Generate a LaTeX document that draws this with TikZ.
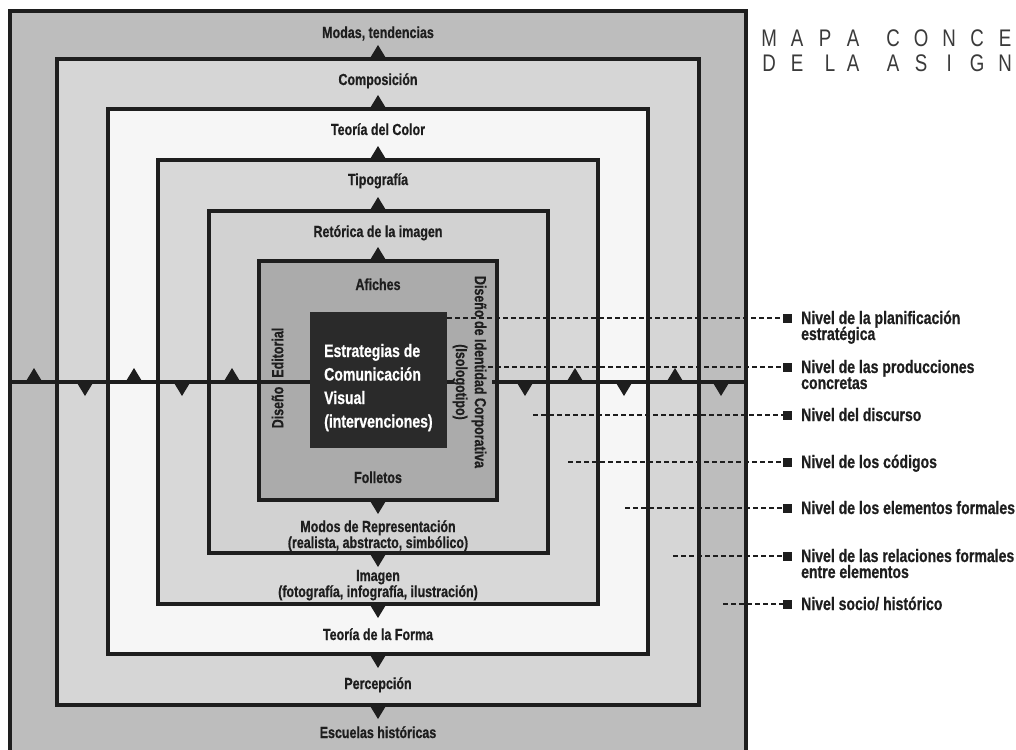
\documentclass[tikz,border=0pt]{standalone}
\usepackage{fontspec}
\newfontfamily\lblfont[FakeStretch=0.78,FakeBold=0.7]{Liberation Sans}
\newfontfamily\ttlfont[FakeStretch=0.78]{Liberation Sans}
\definecolor{linec}{HTML}{1E1E1E}
\definecolor{ttlc}{HTML}{3A3A3A}
\definecolor{bandA}{HTML}{BDBDBD}
\definecolor{bandB}{HTML}{D6D6D6}
\definecolor{bandC}{HTML}{F6F6F6}
\definecolor{bandD}{HTML}{D8D8D8}
\definecolor{bandE}{HTML}{D2D2D2}
\definecolor{bandF}{HTML}{ABABAB}
\definecolor{coreC}{HTML}{2A2A2A}
\newcommand\ttlcell[1]{\makebox[28pt]{#1}}
\newcommand\tup[2]{\fill[linec] (#1-8.5,#2) -- (#1+8.5,#2) -- (#1,#2-14) -- cycle;}
\newcommand\tdn[2]{\fill[linec] (#1-8.5,#2) -- (#1+8.5,#2) -- (#1,#2+14) -- cycle;}
\begin{document}
\begin{tikzpicture}[x=1pt,y=-1pt,
  band/.style={draw=linec, line width=3.2pt},
  lbl/.style={font=\lblfont\bfseries\fontsize{16pt}{17pt}\selectfont, text=linec, inner sep=0pt, anchor=base},
  lvl/.style={font=\lblfont\bfseries\fontsize{18pt}{16pt}\selectfont, text=linec, inner sep=0pt, anchor=base west},
  ctr/.style={font=\lblfont\bfseries\fontsize{18pt}{23.5pt}\selectfont, text=white, inner sep=0pt, anchor=base west},
  ttl/.style={font=\ttlfont\fontsize{24pt}{25pt}\selectfont, text=ttlc, inner sep=0pt, anchor=base west},
  lvline/.style={draw=linec, line width=2pt, dash pattern=on 5pt off 3pt},
  sq/.style={fill=linec, minimum size=9pt, inner sep=0pt},
  hline/.style={draw=linec, line width=3.2pt}
]
\useasboundingbox (0,0) rectangle (1016,749);
\clip (0,0) rectangle (1016,749);

% nested bands
\filldraw[band, fill=bandA] (10,11) rectangle (746,765);
\filldraw[band, fill=bandB] (57,59) rectangle (699,705);
\filldraw[band, fill=bandC] (108,109) rectangle (648,654);
\filldraw[band, fill=bandD] (158,160) rectangle (598,604);
\filldraw[band, fill=bandE] (209,211) rectangle (548,553);
\filldraw[band, fill=bandF] (259,261) rectangle (497,500);

% triangles on band edges
\tup{378}{59}\tup{378}{109}\tup{378}{160}\tup{378}{211}\tup{378}{261}
\tdn{378}{500}\tdn{378}{553}\tdn{378}{604}\tdn{378}{654}\tdn{378}{705}

% horizontal axis
\coordinate (h1) at (10,382);
\coordinate (h2) at (312,382);
\coordinate (h3) at (446,382);
\coordinate (h4) at (454,382);
\coordinate (h5) at (492,382);
\coordinate (h6) at (746,382);
\draw[hline] (h1) -- (h2);
\draw[hline] (h3) -- (h4);
\draw[hline] (h5) -- (h6);
\tup{34}{382}\tup{134}{382}\tup{232}{382}\tup{575}{382}\tup{675}{382}
\tdn{85}{382}\tdn{182}{382}\tdn{525}{382}\tdn{624}{382}\tdn{721}{382}

% core box
\fill[coreC] (310,312) rectangle (447,448);

% level lines
\node[sq] (s1) at (787.5,318) {};
\node[sq] (s2) at (787.5,367) {};
\node[sq] (s3) at (787.5,415) {};
\node[sq] (s4) at (787.5,462) {};
\node[sq] (s5) at (787.5,508) {};
\node[sq] (s6) at (787.5,556) {};
\node[sq] (s7) at (787.5,604) {};
\coordinate (d1) at (447,318);
\coordinate (d2) at (488,367);
\coordinate (d3) at (533,415);
\coordinate (d4) at (568,462);
\coordinate (d5) at (625,508);
\coordinate (d6) at (673,556);
\coordinate (d7) at (723,604);
\draw[lvline] (d1) -- (s1.west);
\draw[lvline] (d2) -- (s2.west);
\draw[lvline] (d3) -- (s3.west);
\draw[lvline] (d4) -- (s4.west);
\draw[lvline] (d5) -- (s5.west);
\draw[lvline] (d6) -- (s6.west);
\draw[lvline] (d7) -- (s7.west);

\node[lvl] (n1) at (801,324) {Nivel de la planificación};
\node[lvl] (n1b) at (801,340) {estratégica};
\node[lvl] (n2) at (801,373) {Nivel de las producciones};
\node[lvl] (n2b) at (801,389) {concretas};
\node[lvl] (n3) at (801,421) {Nivel del discurso};
\node[lvl] (n4) at (801,468) {Nivel de los códigos};
\node[lvl] (n5) at (801,514) {Nivel de los elementos formales};
\node[lvl] (n6) at (801,562) {Nivel de las relaciones formales};
\node[lvl] (n6b) at (801,578) {entre elementos};
\node[lvl] (n7) at (801,610) {Nivel socio/ histórico};

% band labels
\node[lbl] (modas) at (378,38) {Modas, tendencias};
\node[lbl] (compo) at (378,85) {Composición};
\node[lbl] (color) at (378,135) {Teoría del Color};
\node[lbl] (tipo) at (378,185) {Tipografía};
\node[lbl] (reto) at (378,237) {Retórica de la imagen};
\node[lbl] (afiches) at (378,290) {Afiches};
\node[lbl] (folletos) at (378,483) {Folletos};
\node[lbl] (modos) at (378,532) {Modos de Representación};
\node[lbl] (modosb) at (378,548) {(realista, abstracto, simbólico)};
\node[lbl] (imagen) at (378,581) {Imagen};
\node[lbl] (imagenb) at (378,597) {(fotografía, infografía, ilustración)};
\node[lbl] (forma) at (378,640) {Teoría de la Forma};
\node[lbl] (perc) at (378,689) {Percepción};
\node[lbl] (escuelas) at (378,738) {Escuelas históricas};

\node[lbl, anchor=center, rotate=90] (editorial) at (277.5,378) {Diseño\hspace{9pt}Editorial};
\node[lbl, anchor=center, rotate=-90] (idcorp) at (479,372) {Diseño de Identidad Corporativa};
\node[lbl, anchor=center, rotate=-90] (iso) at (460,382) {(Isologotipo)};

% core text
\node[ctr] (c1) at (324,357) {Estrategias de};
\node[ctr] (c2) at (324,380.5) {Comunicación};
\node[ctr] (c3) at (324,404) {Visual};
\node[ctr] (c4) at (324,427.5) {(intervenciones)};

% title
\node[ttl] (t1) at (755,47) {\ttlcell{M}\ttlcell{A}\ttlcell{P}\ttlcell{A}\hspace{12pt}\ttlcell{C}\ttlcell{O}\ttlcell{N}\ttlcell{C}\ttlcell{E}};
\node[ttl] (t2) at (755,72) {\ttlcell{D}\ttlcell{E}\ttlcell{\hspace{10pt}L}\ttlcell{A}\hspace{12pt}\ttlcell{A}\ttlcell{S}\ttlcell{I}\ttlcell{G}\ttlcell{N}};
\end{tikzpicture}
\end{document}
